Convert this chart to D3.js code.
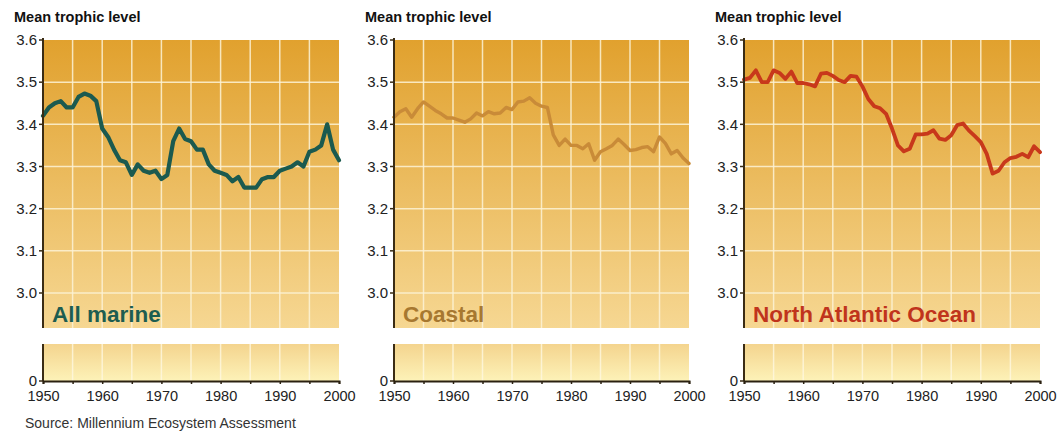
<!DOCTYPE html>
<html><head><meta charset="utf-8">
<script src="https://cdn.jsdelivr.net/npm/d3@7"></script>
<style>body{margin:0;background:#fff}svg{display:block}text{font-family:"Liberation Sans",Arial,sans-serif}</style>
</head><body><svg id="c" width="1057" height="432"></svg>
<script>
const years = d3.range(1950, 2001);
const allMarine = [3.42,3.44,3.45,3.455,3.44,3.44,3.465,3.473,3.468,3.455,3.39,3.37,3.34,3.315,3.31,3.28,3.305,3.29,3.285,3.29,3.27,3.28,3.36,3.39,3.365,3.36,3.34,3.34,3.305,3.29,3.285,3.28,3.265,3.275,3.25,3.25,3.25,3.27,3.275,3.275,3.29,3.295,3.30,3.31,3.30,3.335,3.34,3.35,3.40,3.34,3.315];
const coastal = [3.417,3.43,3.437,3.417,3.437,3.453,3.443,3.433,3.425,3.415,3.415,3.41,3.405,3.413,3.427,3.42,3.43,3.425,3.427,3.44,3.435,3.453,3.455,3.463,3.45,3.443,3.44,3.375,3.35,3.365,3.35,3.35,3.342,3.354,3.315,3.335,3.342,3.35,3.365,3.352,3.338,3.34,3.345,3.347,3.335,3.37,3.355,3.33,3.338,3.32,3.307];
const northAtlantic = [3.506,3.51,3.528,3.50,3.50,3.528,3.522,3.508,3.525,3.498,3.498,3.495,3.49,3.52,3.522,3.515,3.505,3.50,3.515,3.513,3.49,3.46,3.443,3.438,3.425,3.39,3.35,3.336,3.342,3.376,3.376,3.378,3.386,3.366,3.363,3.374,3.398,3.402,3.385,3.372,3.358,3.33,3.283,3.29,3.31,3.32,3.323,3.33,3.322,3.348,3.334];
const yTicks = [3.0, 3.1, 3.2, 3.3, 3.4, 3.5, 3.6];
const xTicks = [1950, 1960, 1970, 1980, 1990, 2000];
const panelNames = ["All marine", "Coastal", "North Atlantic Ocean"];
const yTitle = "Mean trophic level";
const source = "Source: Millennium Ecosystem Assessment";

const panels = [
  {name: panelNames[0], data: allMarine, x0: 43, x1: 339, line: "#1b5a4f", label: "#1d5d50", lw: 4.2},
  {name: panelNames[1], data: coastal, x0: 394, x1: 689, line: "#c98b38", label: "#a77830", lw: 3.4},
  {name: panelNames[2], data: northAtlantic, x0: 744, x1: 1040, line: "#c8381b", label: "#c0341c", lw: 3.8}
];

const svg = d3.select("#c");
const defs = svg.append("defs");
const g1 = defs.append("linearGradient").attr("id","gU").attr("x1",0).attr("x2",0).attr("y1",0).attr("y2",1);
g1.append("stop").attr("offset","0%").attr("stop-color","#e1a12e");
g1.append("stop").attr("offset","100%").attr("stop-color","#f6d792");
const g2 = defs.append("linearGradient").attr("id","gL").attr("x1",0).attr("x2",0).attr("y1",0).attr("y2",1);
g2.append("stop").attr("offset","0%").attr("stop-color","#f4d48e");
g2.append("stop").attr("offset","100%").attr("stop-color","#fdf2b8");

const topY = 40, upBottom = 328, lowTop = 344, axisY = 381;

panels.forEach(p => {
  const x = d3.scaleLinear().domain([1950, 2000]).range([p.x0, p.x1]);
  const y = d3.scaleLinear().domain([3.0, 3.6]).range([293, topY]);
  const g = svg.append("g");
  g.append("rect").attr("x", p.x0).attr("y", topY).attr("width", p.x1 - p.x0).attr("height", upBottom - topY).attr("fill", "url(#gU)");
  g.append("rect").attr("x", p.x0).attr("y", lowTop).attr("width", p.x1 - p.x0).attr("height", axisY - lowTop).attr("fill", "url(#gL)");
  const grid = d3.range(1955, 2000, 5);
  g.selectAll(".vg").data(grid).join("line")
    .attr("x1", d => x(d)).attr("x2", d => x(d)).attr("y1", topY).attr("y2", upBottom)
    .attr("stroke", "#fdf3d6").attr("stroke-width", 1.5).attr("opacity", 0.85);
  g.selectAll(".vg2").data(grid).join("line")
    .attr("x1", d => x(d)).attr("x2", d => x(d)).attr("y1", lowTop).attr("y2", axisY)
    .attr("stroke", "#fff8e0").attr("stroke-width", 1.5).attr("opacity", 0.8);
  g.selectAll(".hg").data(yTicks.filter(d => d < 3.6)).join("line")
    .attr("x1", p.x0).attr("x2", p.x1).attr("y1", d => y(d)).attr("y2", d => y(d))
    .attr("stroke", "#fdf3d6").attr("stroke-width", 1.5).attr("opacity", 0.85);

  g.append("text").attr("x", p.x0 + 9).attr("y", 322).text(p.name)
    .attr("font-size", 22.5).attr("font-weight", "bold").attr("fill", p.label);

  const line = d3.line().x((d, i) => x(years[i])).y(d => y(d)).curve(d3.curveLinear);
  g.append("path").datum(p.data).attr("d", line).attr("fill", "none")
    .attr("stroke", p.line).attr("stroke-width", p.lw).attr("stroke-linejoin", "round").attr("stroke-linecap", "round");

  g.append("line").attr("x1", p.x0).attr("x2", p.x0).attr("y1", topY - 2).attr("y2", upBottom).attr("stroke", "#3b2c14").attr("stroke-width", 2);
  g.append("line").attr("x1", p.x0).attr("x2", p.x0).attr("y1", lowTop).attr("y2", axisY).attr("stroke", "#3b2c14").attr("stroke-width", 2);
  g.selectAll(".yt").data(yTicks).join("line")
    .attr("x1", p.x0 - 4).attr("x2", p.x0).attr("y1", d => y(d)).attr("y2", d => y(d)).attr("stroke", "#3b2c14").attr("stroke-width", 1.5);
  g.selectAll(".yl").data(yTicks).join("text")
    .attr("x", p.x0 - 6).attr("y", d => y(d)).attr("dy", "0.35em").attr("text-anchor", "end")
    .attr("font-size", 15).attr("fill", "#222").text(d => d.toFixed(1));
  g.append("line").attr("x1", p.x0 - 4).attr("x2", p.x0).attr("y1", axisY).attr("y2", axisY).attr("stroke", "#3b2c14").attr("stroke-width", 1.5);
  g.append("text").attr("x", p.x0 - 6).attr("y", axisY).attr("dy", "0.35em").attr("text-anchor", "end").attr("font-size", 15).attr("fill", "#222").text("0");

  const xa = d3.axisBottom(x).tickValues(d3.range(1950, 2001, 5)).tickSize(3).tickFormat(d => xTicks.includes(d) ? d : "");
  const ax = g.append("g").attr("transform", `translate(0,${axisY})`).call(xa);
  ax.select(".domain").attr("stroke", "#2a2010").attr("stroke-width", 2);
  ax.selectAll(".tick line").attr("stroke", "#2a2010").attr("stroke-width", 1.5);
  ax.selectAll(".tick text").attr("font-size", 14.5).attr("fill", "#222").attr("dy", "0.95em")
    .style("font-family", '"Liberation Sans",Arial,sans-serif');

  g.append("text").attr("x", p.x0 - 29).attr("y", 22).text(yTitle)
    .attr("font-size", 14.5).attr("font-weight", "bold").attr("fill", "#111");
});

svg.append("text").attr("x", 25).attr("y", 428).text(source).attr("font-size", 14).attr("fill", "#333");
</script></body></html>
